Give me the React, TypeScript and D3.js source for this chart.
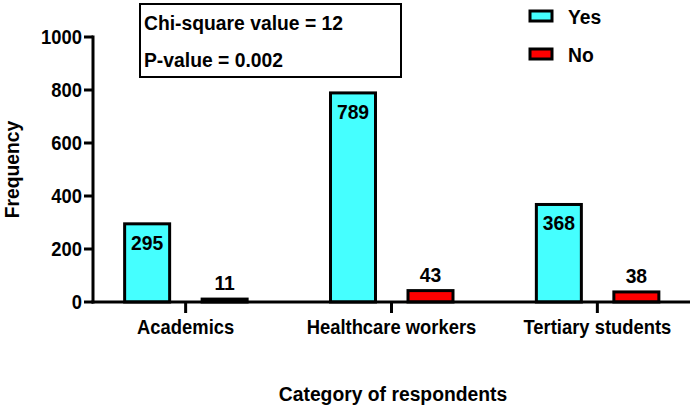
import { useEffect, useRef } from 'react';
import * as d3 from 'd3';

const categories = ['Academics', 'Healthcare workers', 'Tertiary students'];
const seriesNames = ['Yes', 'No'];
const yesValues = [295, 789, 368];
const noValues = [11, 43, 38];
const yTicks = [0, 200, 400, 600, 800, 1000];
const statLines = ['Chi-square value = 12', 'P-value = 0.002'];

const colors: Record<string, string> = { Yes: '#45FFFF', No: '#FF0000' };
const FONT = '"Liberation Sans", Arial, sans-serif';
const SX = 0.92; // the original type is a bit narrower than Arial

export default function App() {
    const ref = useRef<SVGSVGElement>(null);

    useEffect(() => {
        if (!ref.current) return;
        document.body.style.margin = '0';
        const svg = d3.select(ref.current);
        svg.selectAll('*').remove();

        const width = 694;
        const height = 409;
        svg.attr('width', width).attr('height', height).style('font-family', FONT);

        const x0 = 93, x1 = 690, yTop = 37, yBase = 302;

        const x = d3.scalePoint<string>().domain(categories).range([x0, x1]).padding(0.45);
        const sub = d3.scalePoint<string>().domain(seriesNames).range([-38.5, 39]);
        const y = d3.scaleLinear().domain([0, 1000]).range([yBase, yTop]);

        const data = categories.flatMap((c, i) => [
            { cat: c, series: 'Yes', value: yesValues[i] },
            { cat: c, series: 'No', value: noValues[i] },
        ]);

        const barW = 45;
        const place = (px: number, py: number, rot = 0) =>
            `translate(${px},${py})${rot ? ` rotate(${rot})` : ''} scale(${SX},1)`;

        // bars
        svg.append('g')
            .selectAll('rect')
            .data(data)
            .enter()
            .append('rect')
            .attr('x', d => x(d.cat)! + sub(d.series)! - barW / 2)
            .attr('y', d => y(d.value))
            .attr('width', barW)
            .attr('height', d => yBase - y(d.value))
            .attr('fill', d => colors[d.series])
            .attr('stroke', '#000')
            .attr('stroke-width', 3);

        // value labels
        svg.append('g')
            .selectAll('text')
            .data(data)
            .enter()
            .append('text')
            .attr('transform', d => place(
                x(d.cat)! + sub(d.series)!,
                d.series === 'Yes' ? y(d.value) + 26 : y(d.value) - 9))
            .attr('text-anchor', 'middle')
            .attr('font-size', '21px')
            .attr('font-weight', 'bold')
            .text(d => d.value);

        // y axis
        const gy = svg.append('g');
        gy.append('line')
            .attr('x1', x0).attr('x2', x0)
            .attr('y1', yTop - 1.5).attr('y2', yBase + 1.5)
            .attr('stroke', '#000').attr('stroke-width', 3);
        gy.selectAll('.tick')
            .data(yTicks)
            .enter()
            .append('line')
            .attr('x1', x0 - 9).attr('x2', x0)
            .attr('y1', d => y(d)).attr('y2', d => y(d))
            .attr('stroke', '#000').attr('stroke-width', 3);
        gy.selectAll('.lbl')
            .data(yTicks)
            .enter()
            .append('text')
            .attr('transform', d => place(x0 - 11, y(d)))
            .attr('dy', '0.36em')
            .attr('text-anchor', 'end')
            .attr('font-size', '20px')
            .attr('font-weight', 'bold')
            .text(d => d);

        svg.append('text')
            .attr('transform', place(19, (yTop + yBase) / 2, -90))
            .attr('text-anchor', 'middle')
            .attr('font-size', '21px')
            .attr('font-weight', 'bold')
            .text('Frequency');

        // x axis
        const gx = svg.append('g');
        gx.append('line')
            .attr('x1', x0 - 1.5).attr('x2', x1)
            .attr('y1', yBase).attr('y2', yBase)
            .attr('stroke', '#000').attr('stroke-width', 3);
        gx.selectAll('.tick')
            .data(categories)
            .enter()
            .append('line')
            .attr('x1', d => x(d)!).attr('x2', d => x(d)!)
            .attr('y1', yBase).attr('y2', yBase + 11)
            .attr('stroke', '#000').attr('stroke-width', 3);
        gx.selectAll('.lbl')
            .data(categories)
            .enter()
            .append('text')
            .attr('transform', d => place(x(d)!, 334))
            .attr('text-anchor', 'middle')
            .attr('font-size', '20px')
            .attr('font-weight', 'bold')
            .text(d => d);

        svg.append('text')
            .attr('transform', place(393, 401))
            .attr('text-anchor', 'middle')
            .attr('font-size', '21px')
            .attr('font-weight', 'bold')
            .text('Category of respondents');

        // stats box
        svg.append('rect')
            .attr('x', 140).attr('y', 4)
            .attr('width', 261).attr('height', 73)
            .attr('fill', '#fff')
            .attr('stroke', '#000').attr('stroke-width', 2);
        svg.selectAll('.stat')
            .data(statLines)
            .enter()
            .append('text')
            .attr('transform', (_, i) => place(144, 30 + i * 37))
            .attr('font-size', '21px')
            .attr('font-weight', 'bold')
            .text(d => d);

        // legend
        const lg = svg.append('g').selectAll('g')
            .data(seriesNames)
            .enter()
            .append('g')
            .attr('transform', (_, i) => `translate(530,${11 + i * 38})`);
        lg.append('rect')
            .attr('width', 22).attr('height', 10)
            .attr('fill', d => colors[d])
            .attr('stroke', '#000').attr('stroke-width', 3);
        lg.append('text')
            .attr('transform', place(38, 13))
            .attr('font-size', '21px')
            .attr('font-weight', 'bold')
            .text(d => d);
    }, []);

    return (
        <div>
            <svg ref={ref} style={{ display: 'block' }} />
        </div>
    );
}
